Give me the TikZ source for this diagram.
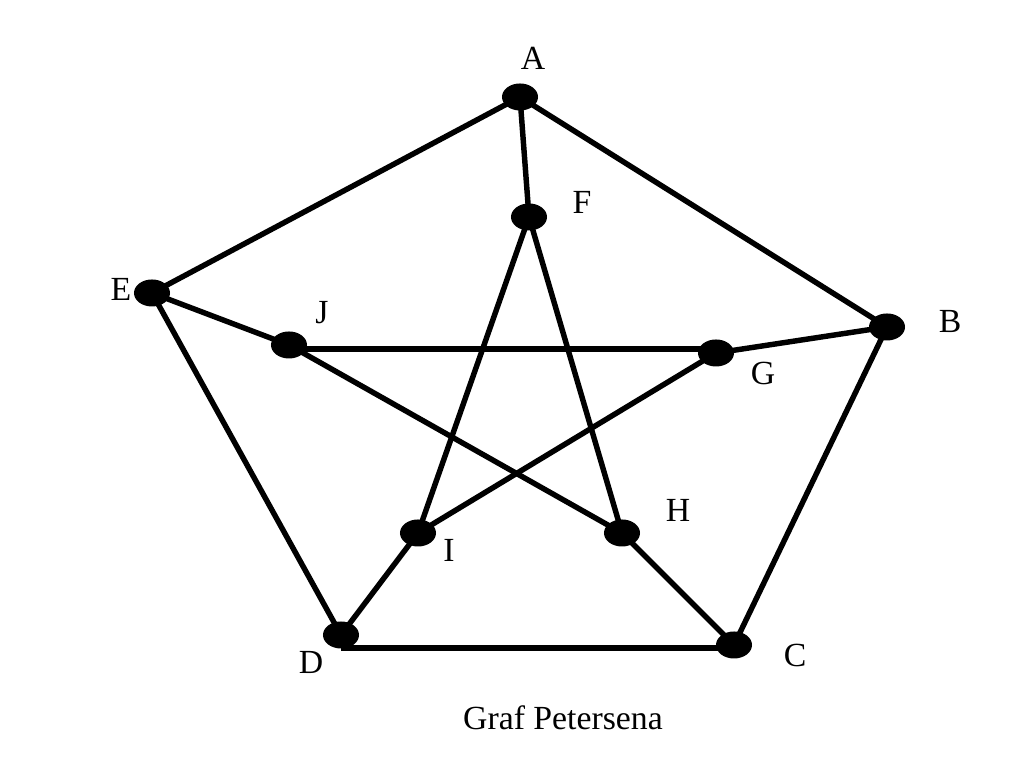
\documentclass[tikz,border=0pt]{standalone}
\usepackage{fontspec}
\setmainfont{Liberation Serif}
\usetikzlibrary{shapes.geometric}
\begin{document}
\begin{tikzpicture}[x=0.01cm,y=-0.01cm]
			\tikzstyle{every node}+=[inner sep=0pt]
			\tikzstyle{vertex}=[ellipse,fill=black,minimum width=0.36cm,minimum height=0.27cm]
			\tikzstyle{edge}=[black,line width=1.55pt]
			\tikzstyle{lbl}=[font=\fontsize{9.6}{11}\selectfont]
			\useasboundingbox (0,0) rectangle (1024,768);
			\node [vertex] (A) at (520,97) {};
			\node [vertex] (B) at (887,327) {};
			\node [vertex] (C) at (734,645) {};
			\node [vertex] (D) at (341,635) {};
			\node [vertex] (E) at (152,293) {};
			\node [vertex] (F) at (529,217) {};
			\node [vertex] (G) at (716,353) {};
			\node [vertex] (H) at (622,533) {};
			\node [vertex] (I) at (418,533) {};
			\node [vertex] (J) at (289,345) {};
			\node [lbl] (lA) at (533,58) {A};
			\node [lbl] (lB) at (950,322) {B};
			\node [lbl] (lC) at (795,655) {C};
			\node [lbl] (lD) at (311,662) {D};
			\node [lbl] (lE) at (121,289) {E};
			\node [lbl] (lF) at (582,202) {F};
			\node [lbl] (lG) at (763,374) {G};
			\node [lbl] (lH) at (678,510) {H};
			\node [lbl] (lI) at (449,550) {I};
			\node [lbl] (lJ) at (322,313) {J};
			\node [lbl] (title) at (563,718) {Graf Petersena};
			% outer pentagon
			\draw [edge] (A.center) -- (B.center) -- (C.center);
			\draw [edge] (D.center |- 0,648) -- (C.center |- 0,648);
			\draw [edge] (D.center) -- (E.center) -- (A.center);
			% spokes
			\draw [edge] (A.center) -- (F.center);
			\draw [edge] (B.center) -- (G.center);
			\draw [edge] (C.center) -- (H.center);
			\draw [edge] (D.center) -- (I.center);
			\draw [edge] (E.center) -- (J.center);
			% inner star
			\draw [edge] (F.center) -- (H.center);
			\draw [edge] (F.center) -- (I.center);
			\draw [edge] (J.center |- 0,349) -- (G.center |- 0,349);
			\draw [edge] (G.center) -- (I.center);
			\draw [edge] (J.center) -- (H.center);
\end{tikzpicture}
\end{document}
